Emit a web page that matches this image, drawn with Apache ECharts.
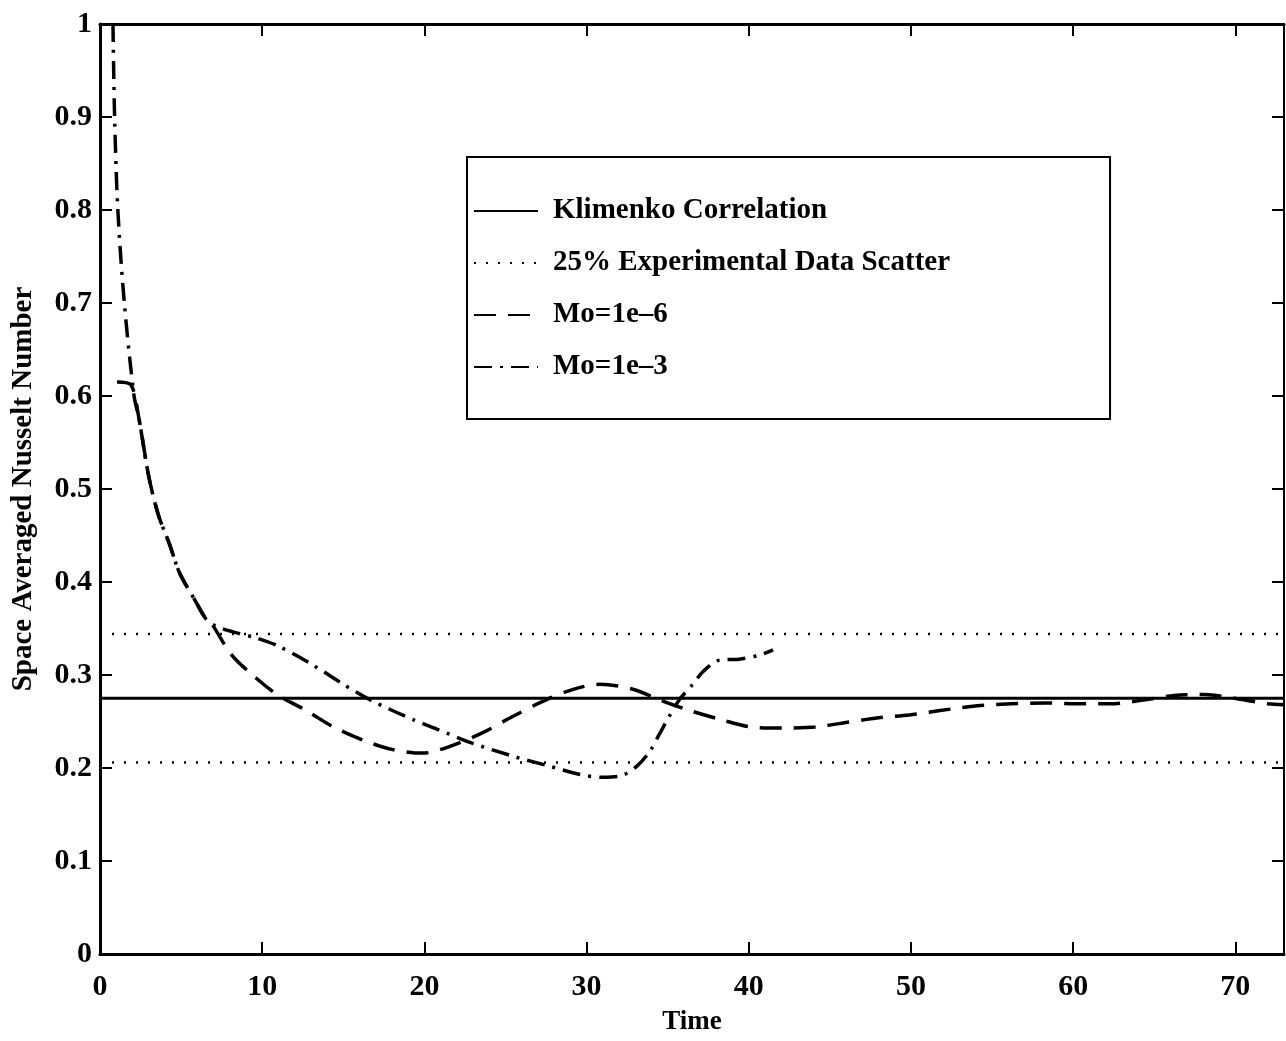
<!DOCTYPE html>
<html>
<head>
<meta charset="utf-8">
<script src="https://cdn.jsdelivr.net/npm/echarts@6/dist/echarts.min.js"></script>
<style>
html,body{margin:0;padding:0;background:#fff;}
#chart{width:1286px;height:1041px;}
</style>
</head>
<body>
<div id="chart"></div>
<script>
// ---- data ----
var xTicks = [0, 10, 20, 30, 40, 50, 60, 70];
var yTicks = [0, 0.1, 0.2, 0.3, 0.4, 0.5, 0.6, 0.7, 0.8, 0.9, 1];

var klimenkoTime = [0, 73];
var klimenkoNu = [0.275, 0.275];

var scatterTime = [0, 73];
var scatterUpper = [0.344, 0.344];
var scatterLower = [0.206, 0.206];

var mo6Time = [1.05, 1.9, 2.4, 3.0, 3.6, 4.3, 4.9, 5.9, 6.5, 6.85, 8.1, 9.6, 11.0, 12.7, 14.3, 16.2, 18.0, 19.9, 21.7, 23.6, 25.3, 27.1, 28.9, 30.8, 32.8, 34.7, 36.5, 38.3, 40.2, 42.1, 44.1, 46.0, 48.0, 49.9, 51.9, 54.1, 56.2, 58.3, 60.2, 62.3, 64.3, 66.2, 68.1, 70.3, 72.0, 73.0];
var mo6Nu = [0.615, 0.612, 0.576, 0.514, 0.472, 0.44, 0.41, 0.379, 0.361, 0.356, 0.322, 0.297, 0.278, 0.262, 0.245, 0.23, 0.22, 0.216, 0.224, 0.238, 0.254, 0.27, 0.283, 0.29, 0.285, 0.272, 0.261, 0.252, 0.244, 0.243, 0.244, 0.249, 0.254, 0.257, 0.262, 0.267, 0.269, 0.27, 0.269, 0.269, 0.273, 0.278, 0.279, 0.274, 0.269, 0.268];

var mo3Time = [0.8, 0.9, 1.1, 1.5, 2.1, 2.4, 3.0, 3.6, 4.3, 4.9, 5.9, 6.5, 7.0, 7.5, 8.5, 9.6, 11.0, 13.1, 15.0, 16.8, 19.3, 20.9, 22.9, 25.4, 27.7, 29.6, 31.0, 32.2, 33.1, 33.9, 34.6, 35.7, 36.5, 37.2, 38.2, 39.4, 40.6, 41.5];
var mo3Nu = [1.0, 0.9, 0.8, 0.7, 0.6, 0.576, 0.514, 0.472, 0.44, 0.41, 0.379, 0.361, 0.354, 0.35, 0.345, 0.34, 0.331, 0.311, 0.29, 0.272, 0.252, 0.241, 0.227, 0.213, 0.202, 0.193, 0.19, 0.192, 0.202, 0.218, 0.24, 0.273, 0.289, 0.304, 0.316, 0.317, 0.321, 0.327];

var legendNames = ['Klimenko Correlation', '25% Experimental Data Scatter', 'Mo=1e\u20136', 'Mo=1e\u20133'];

function zip(xs, ys) { return xs.map(function (x, i) { return [x, ys[i]]; }); }

var FONT = '"Liberation Serif", "DejaVu Serif", serif';
var chart = echarts.init(document.getElementById('chart'), null, {renderer: 'canvas'});

var tickLabelStyle = {fontFamily: FONT, fontWeight: 'bold', fontSize: 30, color: '#000'};

chart.setOption({
  backgroundColor: '#fff',
  animation: false,
  grid: {left: 100, right: 2, top: 24, bottom: 84, containLabel: false},
  legend: {
    orient: 'vertical',
    left: 467,
    top: 157,
    data: legendNames,
    itemWidth: 64,
    itemHeight: 14,
    itemGap: 22,
    padding: [39, 160, 37, 6],
    backgroundColor: '#fff',
    borderColor: '#000',
    borderWidth: 2,
    borderRadius: 0,
    selectedMode: false,
    itemStyle: {color: 'rgba(0,0,0,0)', borderColor: 'rgba(0,0,0,0)', borderWidth: 0},
    textStyle: {fontFamily: FONT, fontWeight: 'bold', fontSize: 29, color: '#000', lineHeight: 30, padding: [0, 0, 0, 10]}
  },
  xAxis: [{
    type: 'value', min: 0, max: 73, interval: 10,
    name: 'Time', nameLocation: 'middle', nameGap: 55,
    nameTextStyle: {fontFamily: FONT, fontWeight: 'bold', fontSize: 27, color: '#000'},
    axisLine: {lineStyle: {color: '#000', width: 3}},
    axisTick: {inside: true, length: 12, lineStyle: {color: '#000', width: 2}},
    axisLabel: Object.assign({margin: 18, showMaxLabel: false,
      formatter: function (v) { return xTicks.indexOf(v) >= 0 ? String(v) : ''; }}, tickLabelStyle),
    splitLine: {show: false}
  }, {
    type: 'value', position: 'top', min: 0, max: 73, interval: 10,
    axisLine: {show: true, onZero: false, lineStyle: {color: '#000', width: 3}},
    axisTick: {inside: true, length: 12, lineStyle: {color: '#000', width: 2}},
    axisLabel: {show: false},
    splitLine: {show: false}
  }],
  yAxis: [{
    type: 'value', min: 0, max: 1, interval: 0.1,
    name: 'Space Averaged Nusselt Number', nameLocation: 'middle', nameGap: 62, nameRotate: 90,
    nameTextStyle: {fontFamily: FONT, fontWeight: 'bold', fontSize: 29, color: '#000'},
    axisLine: {lineStyle: {color: '#000', width: 3}},
    axisTick: {inside: true, length: 12, lineStyle: {color: '#000', width: 2}},
    axisLabel: Object.assign({margin: 8,
      formatter: function (v) { var r = Math.round(v * 10) / 10; return String(r); }}, tickLabelStyle),
    splitLine: {show: false}
  }, {
    type: 'value', position: 'right', min: 0, max: 1, interval: 0.1,
    axisLine: {show: true, onZero: false, lineStyle: {color: '#000', width: 2}},
    axisTick: {inside: true, length: 12, lineStyle: {color: '#000', width: 2}},
    axisLabel: {show: false},
    splitLine: {show: false}
  }],
  series: [{
    name: legendNames[0], type: 'line', symbol: 'none', data: zip(klimenkoTime, klimenkoNu),
    lineStyle: {color: '#000', width: 3, type: 'solid'}, itemStyle: {color: '#000'}, z: 3
  }, {
    name: legendNames[1], type: 'line', symbol: 'none', data: zip(scatterTime, scatterUpper),
    lineStyle: {color: '#000', width: 2.5, type: [2, 10]}, itemStyle: {color: '#000'}, z: 2
  }, {
    name: legendNames[1], type: 'line', symbol: 'none', data: zip(scatterTime, scatterLower),
    lineStyle: {color: '#000', width: 2.5, type: [2, 10]}, itemStyle: {color: '#000'}, z: 2
  }, {
    name: legendNames[2], type: 'line', symbol: 'none', smooth: 0.3, data: zip(mo6Time, mo6Nu),
    lineStyle: {color: '#000', width: 3.5, type: [22, 12]}, itemStyle: {color: '#000'}, z: 4
  }, {
    name: legendNames[3], type: 'line', symbol: 'none', smooth: 0.3, data: zip(mo3Time, mo3Nu),
    lineStyle: {color: '#000', width: 3.5, type: [18, 8, 3, 8]}, itemStyle: {color: '#000'}, z: 4
  }]
});
</script>
</body>
</html>
